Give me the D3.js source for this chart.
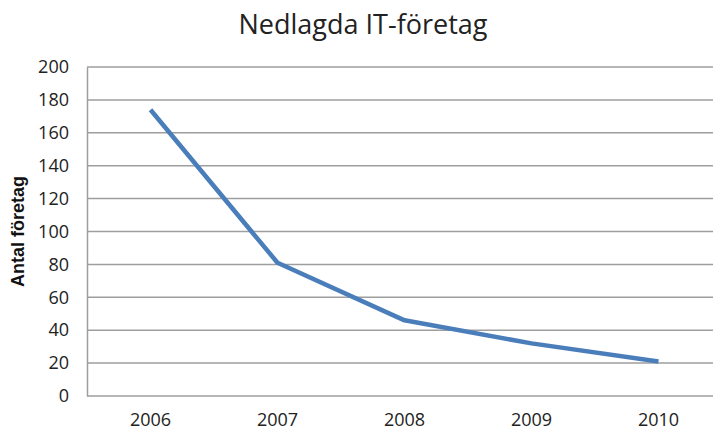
<!DOCTYPE html>
<html>
<head>
<meta charset="utf-8">
<script src="https://cdn.jsdelivr.net/npm/d3@7"></script>
<style>
    body { margin: 0; background: #fff; }
    svg { display: block; overflow: hidden; }
</style>
</head>
<body>
<div id="wrapper"></div>
<script>
const years = ["2006", "2007", "2008", "2009", "2010"];
const closed = [174, 81, 46, 32, 21];
const yTicks = [0, 20, 40, 60, 80, 100, 120, 140, 160, 180, 200];
const title = "Nedlagda IT-företag";
const yLabel = "Antal företag";

function build() {
    var dimension = {
        width: 713,
        height: 432,
        margin: { top: 67, right: -9, bottom: 36, left: 87 }
    };
    dimension.boundedWidth = dimension.width - dimension.margin.left - dimension.margin.right;
    dimension.boundedHeight = dimension.height - dimension.margin.top - dimension.margin.bottom;

    const wrapper = d3.select("#wrapper")
        .append("svg")
        .attr("width", dimension.width)
        .attr("height", dimension.height);

    const bounds = wrapper.append("g")
        .attr("transform", `translate(${dimension.margin.left},${dimension.margin.top})`);

    const x = d3.scaleBand()
        .domain(years)
        .range([0, dimension.boundedWidth]);
    const y = d3.scaleLinear()
        .domain([0, 200])
        .range([dimension.boundedHeight, 0]);

    // gridlines
    bounds.append("g")
        .selectAll("line")
        .data(yTicks)
        .enter()
        .append("line")
        .attr("x1", 0)
        .attr("x2", dimension.boundedWidth)
        .attr("y1", d => y(d))
        .attr("y2", d => y(d))
        .attr("stroke", "#9e9e9e")
        .attr("stroke-width", 1.5);

    // left axis
    const yAxis = bounds.append("g")
        .call(d3.axisLeft(y).tickValues(yTicks).tickSize(0).tickPadding(18));
    yAxis.select(".domain").attr("stroke", "#9e9e9e").attr("stroke-width", 1.5);
    yAxis.selectAll("text")
        .style("font-family", "'Open Sans', sans-serif")
        .style("font-size", "18px")
        .attr("fill", "#222");

    // bottom axis
    const xAxis = bounds.append("g")
        .attr("transform", `translate(0,${dimension.boundedHeight})`)
        .call(d3.axisBottom(x).tickSize(0).tickPadding(17));
    xAxis.select(".domain").remove();
    xAxis.selectAll("text")
        .style("font-family", "'Open Sans', sans-serif")
        .style("font-size", "18px")
        .attr("fill", "#222");

    // series line
    const line = d3.line()
        .x((d, i) => x(years[i]) + x.bandwidth() / 2)
        .y(d => y(d));
    bounds.append("path")
        .datum(closed)
        .attr("d", line)
        .attr("fill", "none")
        .attr("stroke", "#4a7ebb")
        .attr("stroke-width", 4.5)
        .attr("stroke-linejoin", "round");

    // title
    wrapper.append("text")
        .attr("x", 363)
        .attr("y", 34)
        .attr("text-anchor", "middle")
        .style("font-family", "'Open Sans', sans-serif")
        .style("font-size", "27px")
        .attr("fill", "#222")
        .text(title);

    // y label
    wrapper.append("text")
        .attr("transform", `translate(24,${dimension.margin.top + dimension.boundedHeight / 2}) rotate(-90)`)
        .attr("text-anchor", "middle")
        .style("font-family", "'Liberation Sans', Arial, sans-serif")
        .style("font-size", "18px")
        .style("font-weight", "bold")
        .attr("fill", "#111")
        .text(yLabel);
}

build();
</script>
</body>
</html>
